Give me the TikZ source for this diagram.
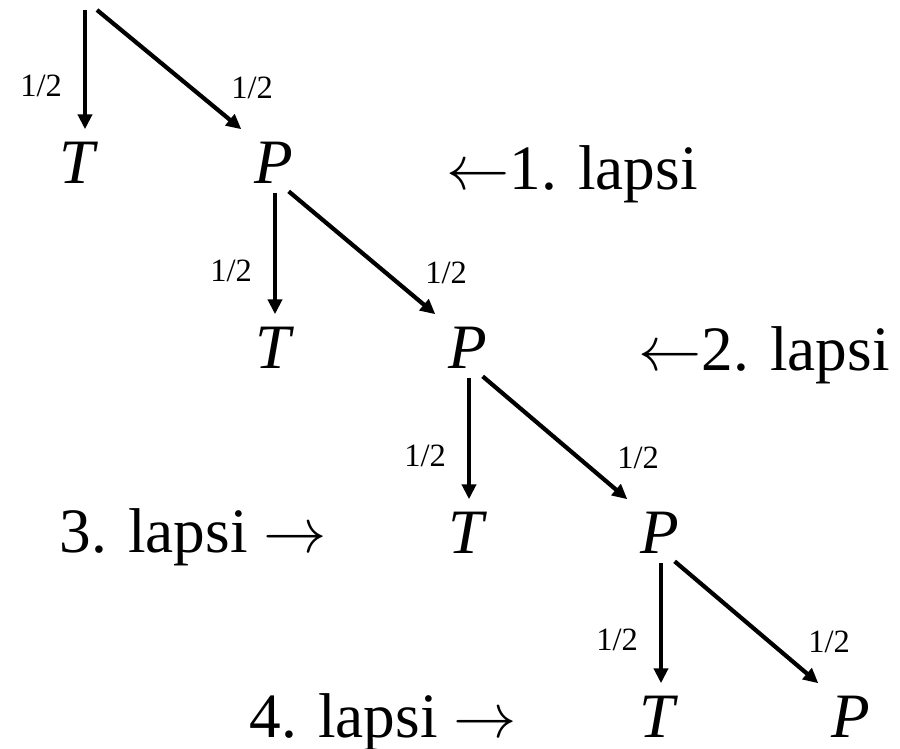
\RequirePackage{fix-cm}
\documentclass[tikz,border=0pt]{standalone}
\usepackage{fontspec}
\setmainfont{Liberation Serif}
\usetikzlibrary{arrows.meta, positioning}

\newcommand{\bigsize}{\fontsize{36}{40}\selectfont}

\begin{document}
\begin{tikzpicture}[x=0.02cm, y=-0.02cm,
        outcome/.style={inner sep=0pt, anchor=base, font=\bigsize\itshape},
        lapsi/.style={inner sep=0pt, font=\bigsize},
        prob/.style={inner sep=0pt, font=\fontsize{18.5}{20}\selectfont},
        branch/.style={-{Triangle[length=8.5pt, width=8pt]}, line width=2.4pt}]

    \useasboundingbox (0,0) rectangle (900,748);

    % Root of the tree (no label)
    \coordinate (root) at (84,0);

    % Round 1
    \node[outcome] (T1) at (77,183) {T};
    \node[outcome] (P1) at (274,183) {P};
    \node[lapsi, anchor=base west] (L1) at (446,189) {$\leftarrow$1. lapsi};
    \draw[branch] ([shift={(1,10)}]root) -- ([shift={(1,-12)}]root |- T1.north)
        node[prob, anchor=base east, shift={(-21,-33)}] {1/2};
    \draw[branch] ([shift={(13,10)}]root) -- ([shift={(-13,-12)}]P1.north west)
        node[prob, anchor=base west, shift={(-12,-31)}] {1/2};

    % Round 2
    \node[outcome] (T2) at (273,368) {T};
    \node[outcome] (P2) at (468,368) {P};
    \node[lapsi, anchor=base west] (L2) at (638,370) {$\leftarrow$2. lapsi};
    \draw[branch] ([shift={(1,10)}]P1.south) -- ([shift={(1,-12)}]P1.south |- T2.north)
        node[prob, anchor=base east, shift={(-21,-33)}] {1/2};
    \draw[branch] ([shift={(-5,8)}]P1.south east) -- ([shift={(-13,-12)}]P2.north west)
        node[prob, anchor=base west, shift={(-12,-31)}] {1/2};

    % Round 3
    \node[lapsi, anchor=base east] (L3) at (327,552) {3. lapsi $\rightarrow$};
    \node[outcome] (T3) at (466,553) {T};
    \node[outcome] (P3) at (660,553) {P};
    \draw[branch] ([shift={(1,10)}]P2.south) -- ([shift={(1,-12)}]P2.south |- T3.north)
        node[prob, anchor=base east, shift={(-21,-33)}] {1/2};
    \draw[branch] ([shift={(-5,8)}]P2.south east) -- ([shift={(-13,-12)}]P3.north west)
        node[prob, anchor=base west, shift={(-12,-31)}] {1/2};

    % Round 4
    \node[lapsi, anchor=base east] (L4) at (517,737) {4. lapsi $\rightarrow$};
    \node[outcome] (T4) at (657,737) {T};
    \node[outcome] (P4) at (851,737) {P};
    \draw[branch] ([shift={(1,10)}]P3.south) -- ([shift={(1,-12)}]P3.south |- T4.north)
        node[prob, anchor=base east, shift={(-21,-33)}] {1/2};
    \draw[branch] ([shift={(-5,8)}]P3.south east) -- ([shift={(-13,-12)}]P4.north west)
        node[prob, anchor=base west, shift={(-12,-31)}] {1/2};
\end{tikzpicture}
\end{document}
